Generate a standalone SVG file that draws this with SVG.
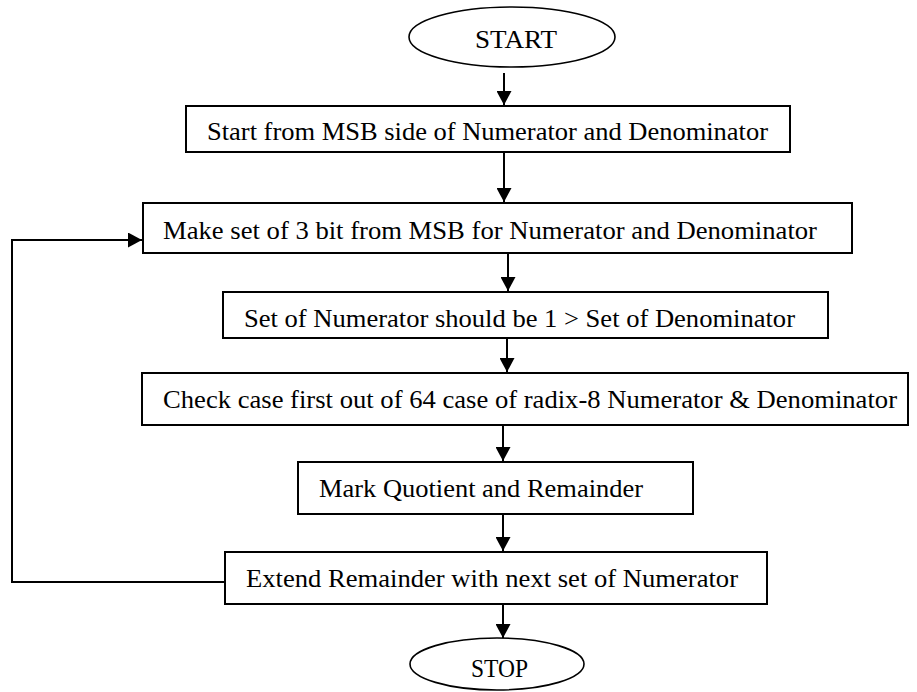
<svg xmlns="http://www.w3.org/2000/svg" width="917" height="692" viewBox="0 0 917 692">
<defs>
<style>
.box{fill:#fff;stroke:#000;stroke-width:2}
.term{fill:#fff;stroke:#000;stroke-width:1.6}
.t{font-family:"Liberation Serif","Times New Roman",serif;font-size:26px;fill:#000}
.c{stroke:#000;stroke-width:2;fill:none}
</style>
<marker id="ah" viewBox="0 0 14 15" refX="14" refY="7.5" markerWidth="14" markerHeight="15" markerUnits="userSpaceOnUse" orient="auto">
<path d="M0,0 L14,7.5 L0,15 Z" fill="#000"/>
</marker>
</defs>
<rect width="917" height="692" fill="#fff"/>
<g id="connectors">
<line class="c" x1="504" y1="73" x2="504" y2="105" marker-end="url(#ah)"/>
<line class="c" x1="504" y1="152" x2="504" y2="202" marker-end="url(#ah)"/>
<line class="c" x1="508" y1="253" x2="508" y2="291" marker-end="url(#ah)"/>
<line class="c" x1="507" y1="338" x2="507" y2="372" marker-end="url(#ah)"/>
<line class="c" x1="503" y1="425" x2="503" y2="461" marker-end="url(#ah)"/>
<line class="c" x1="503" y1="514" x2="503" y2="551" marker-end="url(#ah)"/>
<line class="c" x1="503" y1="604" x2="503" y2="638" marker-end="url(#ah)"/>
<polyline class="c" points="225,582 12,582 12,240 142,240" marker-end="url(#ah)"/>
</g>
<g id="start">
<ellipse class="term" cx="512" cy="37" rx="103" ry="30"/>
<text class="t" x="475" y="48" textLength="82" lengthAdjust="spacingAndGlyphs">START</text>
</g>
<g id="step1">
<rect class="box" x="186" y="106" width="604" height="46"/>
<text class="t" x="207" y="140" textLength="561" lengthAdjust="spacingAndGlyphs">Start from MSB side of Numerator and Denominator</text>
</g>
<g id="step2">
<rect class="box" x="143" y="203" width="709" height="50"/>
<text class="t" x="163" y="239" textLength="654" lengthAdjust="spacingAndGlyphs">Make set of 3 bit from MSB for Numerator and Denominator</text>
</g>
<g id="step3">
<rect class="box" x="223" y="292" width="605" height="46"/>
<text class="t" x="244" y="327" textLength="551" lengthAdjust="spacingAndGlyphs">Set of Numerator should be 1 &gt; Set of Denominator</text>
</g>
<g id="step4">
<rect class="box" x="142" y="373" width="766" height="52"/>
<text class="t" x="163" y="408" textLength="734" lengthAdjust="spacingAndGlyphs">Check case first out of 64 case of radix-8 Numerator &amp; Denominator</text>
</g>
<g id="step5">
<rect class="box" x="298" y="462" width="395" height="52"/>
<text class="t" x="319" y="497" textLength="324" lengthAdjust="spacingAndGlyphs">Mark Quotient and Remainder</text>
</g>
<g id="step6">
<rect class="box" x="225" y="552" width="542" height="52"/>
<text class="t" x="246" y="587" textLength="492" lengthAdjust="spacingAndGlyphs">Extend Remainder with next set of Numerator</text>
</g>
<g id="stop">
<ellipse class="term" cx="497" cy="664" rx="87" ry="26"/>
<text class="t" x="471" y="677" font-size="23" textLength="57" lengthAdjust="spacingAndGlyphs">STOP</text>
</g>
</svg>
